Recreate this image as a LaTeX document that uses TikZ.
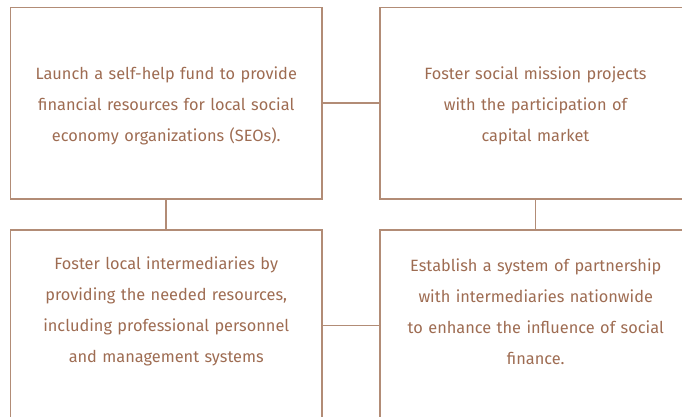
\documentclass[tikz,border=0pt]{standalone}
\usepackage{fontspec}
\setmainfont{Fira Sans}
\usepackage{tikz}
\usetikzlibrary{positioning}
\definecolor{framebrown}{RGB}{178,140,118}
\definecolor{textbrown}{RGB}{158,108,82}
\tikzset{
	%Define style for boxes
	kasse/.style={
		rectangle,
		draw=framebrown, line width=1pt,
		minimum width=6.23cm,
		minimum height=3.83cm},
	%Define style for texts
	tekst/.style={text width=6cm, align=center, text=textbrown,
		font=\fontsize{9.3}{17.6}\selectfont},
	% Define line style
	linje/.style={draw=framebrown, line width=1pt}
}
\begin{document}
\begin{tikzpicture}[x=0.02cm,y=-0.02cm]
	\useasboundingbox[clip] (0,0) rectangle (682,416);
	% node fund
	\node[kasse] (fund) at (166.25,103.25) {};
	% node mission
	\node[kasse, right=1.12cm of fund] (mission) {};
	% node intermediaries
	\node[kasse, below=0.58cm of fund] (local) {};
	% node partnership
	\node[kasse, below=0.58cm of mission] (partner) {};
	\node[tekst, yshift=-0.06cm] (t1) at (fund) {Launch a self-help fund to provide\\financial resources for local social\\economy organizations (SEOs).};
	\node[tekst, yshift=-0.06cm] (t2) at (mission) {Foster social mission projects\\with the participation of\\capital market};
	\node[tekst] (t3) at (166.25,311.5) {Foster local intermediaries by\\providing the needed resources,\\including professional personnel\\and management systems};
	\node[tekst] (t4) at (535.75,311.5) {Establish a system of partnership\\with intermediaries nationwide\\to enhance the influence of social\\finance.};
	\draw[linje] (fund) -- (mission);
	\draw[linje] (local) -- (partner);
	\draw[linje] (fund) -- (local);
	\draw[linje] (mission) -- (partner);
\end{tikzpicture}
\end{document}
